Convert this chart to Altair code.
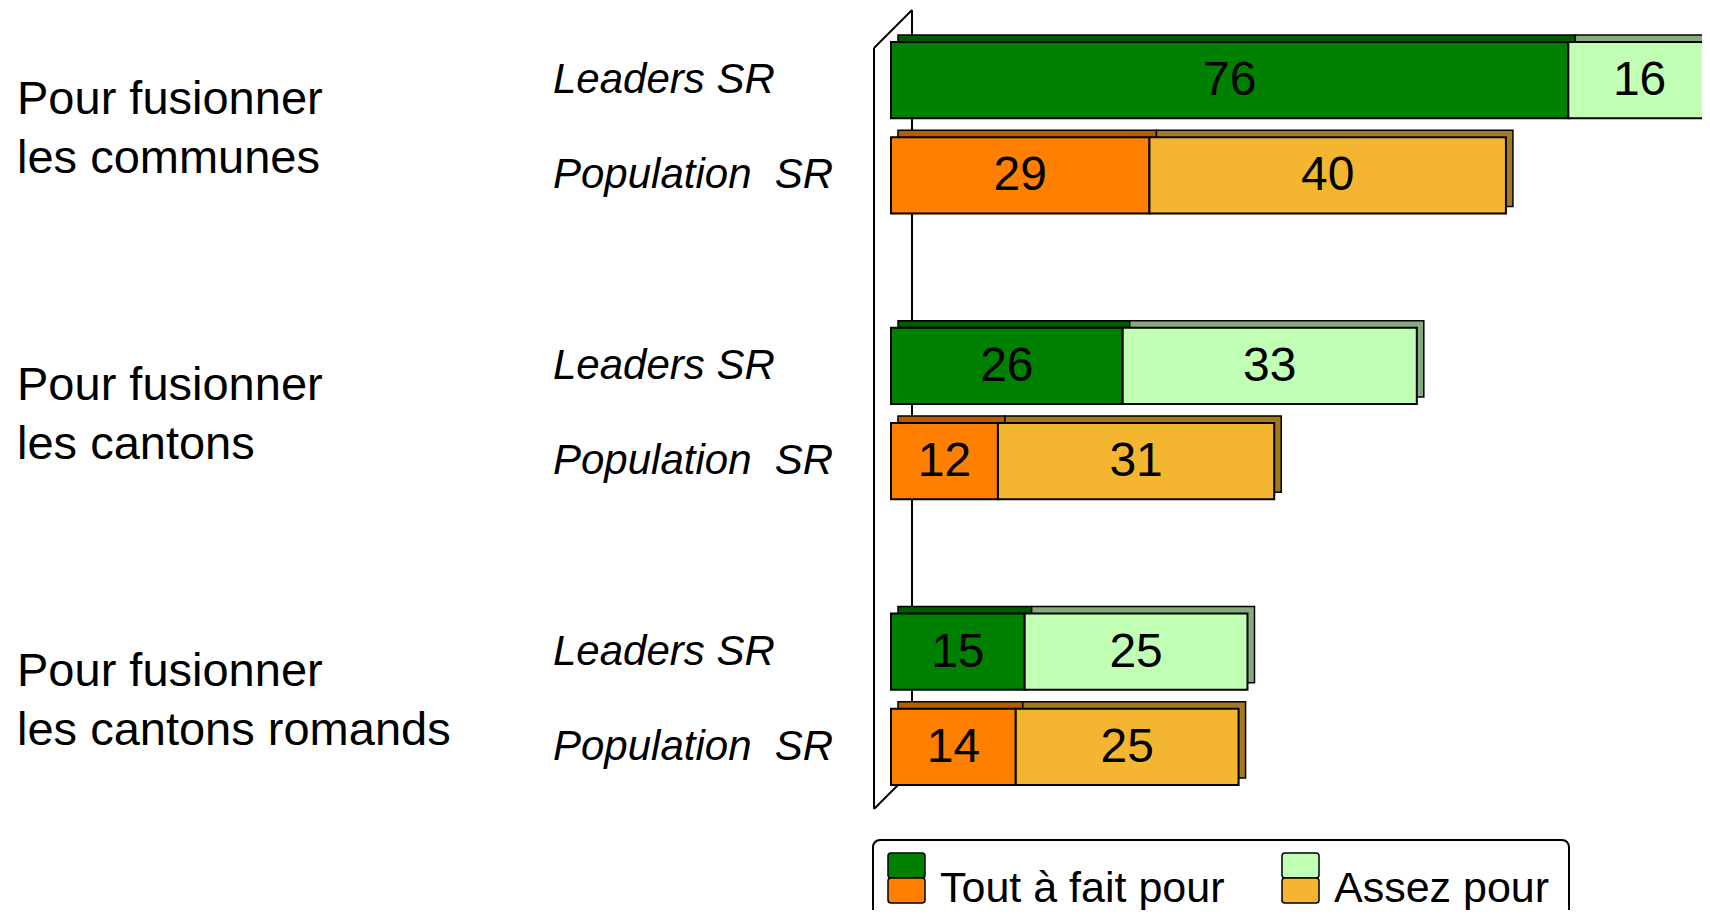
import altair as alt
import pandas as pd

# ---- data ----
groups = ["Pour fusionner\nles communes", "Pour fusionner\nles cantons", "Pour fusionner\nles cantons romands"]
respondents = ["Leaders SR", "Population\u00a0 SR"]
tout_a_fait = [76, 29, 26, 12, 15, 14]   # per group: Leaders, Population
assez = [16, 40, 33, 31, 25, 25]
levels = ["Tout à fait pour", "Assez pour"]

front_colors = {
    (respondents[0], levels[0]): "#008000",
    (respondents[0], levels[1]): "#C0FFB4",
    (respondents[1], levels[0]): "#FF8000",
    (respondents[1], levels[1]): "#F4B630",
}
back_colors = {
    (respondents[0], levels[0]): "#005A00",
    (respondents[0], levels[1]): "#86AC7E",
    (respondents[1], levels[0]): "#B85C00",
    (respondents[1], levels[1]): "#A27A22",
}

# ---- build tables ----
row_domain = []
rows = []
k = 0
for gi, g in enumerate(groups):
    for r in respondents:
        key = f"{gi}|{r}"
        row_domain.append(key)
        t = tout_a_fait[k]
        a = assez[k]
        rows.append(dict(row=key, group=g, resp=r, level=levels[0], x=0, x2=t, val=t,
                         ckey=f"{r}|{levels[0]}"))
        rows.append(dict(row=key, group=g, resp=r, level=levels[1], x=t, x2=t + a, val=a,
                         ckey=f"{r}|{levels[1]}"))
        k += 1
    if gi < len(groups) - 1:
        row_domain.append(f"gap{gi}")
df = pd.DataFrame(rows)

ckeys = [f"{r}|{l}" for r in respondents for l in levels]
front_range = [front_colors[(r, l)] for r in respondents for l in levels]
back_range = [back_colors[(r, l)] for r in respondents for l in levels]

yscale = alt.Scale(domain=row_domain, paddingInner=0.2, paddingOuter=0)
xscale = alt.Scale(domain=[0, 91.0], nice=False, zero=True)

Y = alt.Y("row:N", scale=yscale, axis=None)
X = alt.X("x:Q", scale=xscale, axis=None)
X2 = alt.X2("x2:Q")

base = alt.Chart(df)

SANS = "Liberation Sans"

def deco():
    return alt.Chart(alt.Data(values=[{"d": 1}]))

# wall (pseudo 3D)
wall_back = deco().mark_rule(color="black", strokeWidth=2).encode(
    x=alt.value(21), x2=alt.value(21), y=alt.value(-32), y2=alt.value(729))
wall_front = deco().mark_rule(color="black", strokeWidth=2).encode(
    x=alt.value(-17), x2=alt.value(-17), y=alt.value(6), y2=alt.value(767))
wall_top = deco().mark_rule(color="black", strokeWidth=2).encode(
    x=alt.value(-17), x2=alt.value(21), y=alt.value(6), y2=alt.value(-32))
wall_bot = deco().mark_rule(color="black", strokeWidth=2).encode(
    x=alt.value(-17), x2=alt.value(21), y=alt.value(767), y2=alt.value(729))

back = base.mark_bar(stroke="black", strokeWidth=1.5, xOffset=7, x2Offset=7,
                     yOffset=-7, y2Offset=-7).encode(
    x=X, x2=X2, y=Y,
    color=alt.Color("ckey:N", scale=alt.Scale(domain=ckeys, range=back_range), legend=None))

front = base.mark_bar(stroke="black", strokeWidth=2).encode(
    x=X, x2=X2, y=Y,
    color=alt.Color("ckey:N", scale=alt.Scale(domain=ckeys, range=front_range), legend=None))

values = base.transform_calculate(mid="(datum.x + datum.x2) / 2").mark_text(
    font=SANS, fontSize=48, color="black", baseline="middle", align="center", dy=1).encode(
    x=alt.X("mid:Q", scale=xscale, axis=None), y=Y, text="val:Q")

resp_labels = base.transform_filter(alt.datum.level == levels[0]).mark_text(
    font=SANS, fontStyle="italic", fontSize=42, color="black", baseline="middle",
    align="left", dy=0).encode(
    x=alt.value(-338), y=Y, text="resp:N")

group_labels = base.transform_filter(
    (alt.datum.level == levels[0]) & (alt.datum.resp == respondents[0])).mark_text(
    font=SANS, fontSize=47, color="black", baseline="middle", align="left",
    lineBreak="\n", lineHeight=59, dy=20).encode(
    x=alt.value(-874), y=Y, text="group:N")

# legend (custom: paired swatches)
legend_box = deco().mark_rect(fill="white", stroke="black", strokeWidth=2, cornerRadius=7).encode(
    x=alt.value(-18), x2=alt.value(678), y=alt.value(798), y2=alt.value(905))

legend_layers = [legend_box]
leg_x = [-3, 391]
for i, lev in enumerate(levels):
    top_c = front_colors[(respondents[0], lev)]
    bot_c = front_colors[(respondents[1], lev)]
    lx = leg_x[i]
    legend_layers.append(deco().mark_rect(fill=top_c, stroke="black", strokeWidth=1.5, cornerRadius=3).encode(
        x=alt.value(lx), x2=alt.value(lx + 37), y=alt.value(811), y2=alt.value(836)))
    legend_layers.append(deco().mark_rect(fill=bot_c, stroke="black", strokeWidth=1.5, cornerRadius=3).encode(
        x=alt.value(lx), x2=alt.value(lx + 37), y=alt.value(836), y2=alt.value(861)))
    legend_layers.append(deco().mark_text(font=SANS, fontSize=43, color="black", align="left",
                                          baseline="alphabetic", text=lev).encode(
        x=alt.value(lx + 52), y=alt.value(860)))

chart = alt.layer(
    wall_back, wall_front, wall_top, wall_bot,
    back, front, values, resp_labels, group_labels, *legend_layers
).properties(
    width=811, height=743,
    autosize=alt.AutoSizeParams(type="none"),
    padding={"left": 883, "top": 34, "right": 0, "bottom": 125},
).configure_view(strokeWidth=0).resolve_scale(color="independent")

chart.save("out.html", embed_options={"renderer": "svg", "actions": False})
